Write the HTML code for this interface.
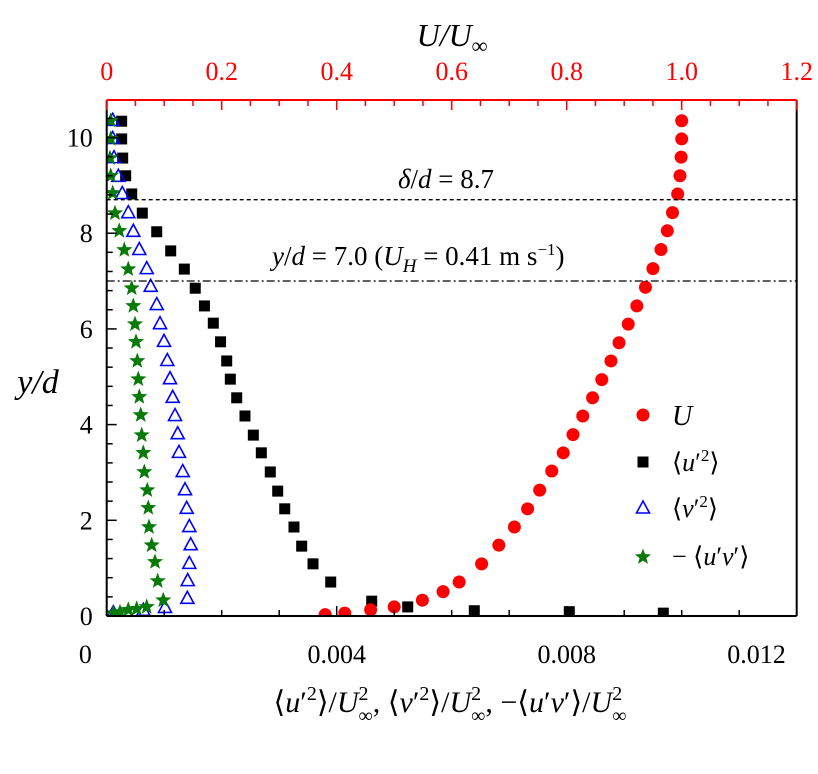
<!DOCTYPE html>
<html><head><meta charset="utf-8"><style>
body{margin:0;background:#fff}
svg, svg text{font-family:"Liberation Serif","Times New Roman","DejaVu Serif",serif}
</style></head><body>
<svg id="chart" width="818" height="769" viewBox="0 0 818 769" xmlns="http://www.w3.org/2000/svg" font-family="Liberation Serif, serif">
<g id="marks"></g>
<g id="axes"></g>
<line x1="106.7" x2="796.7" y1="199.7" y2="199.7" stroke="#000" stroke-width="1.3" stroke-dasharray="4,3"/>
<line x1="106.7" x2="796.7" y1="281" y2="281" stroke="#000" stroke-width="1.3" stroke-dasharray="8,3,2,3"/>
<text x="446" y="188" font-size="27" text-anchor="middle"><tspan font-style="italic">δ</tspan>/<tspan font-style="italic">d</tspan> = 8.7</text>
<text x="272" y="265" font-size="27"><tspan font-style="italic">y</tspan>/<tspan font-style="italic">d</tspan> = 7.0 (<tspan font-style="italic">U</tspan><tspan font-style="italic" font-size="19" dy="7">H</tspan><tspan dy="-7"> = 0.41 m s</tspan><tspan font-size="17" dy="-10">−1</tspan><tspan dy="10">)</tspan></text>
<text x="452" y="46" font-size="32" text-anchor="middle" font-style="italic">U/U<tspan font-size="22" dy="7">∞</tspan></text>
<text x="38" y="393" font-size="34" text-anchor="middle" font-style="italic">y/d</text>
<text x="450" y="712" font-size="30" text-anchor="middle">⟨<tspan font-style="italic">u</tspan>′<tspan font-size="20" dy="-12">2</tspan><tspan dy="12">⟩/</tspan><tspan font-style="italic">U</tspan><tspan font-size="20" dy="-12">2</tspan><tspan font-size="20" dx="-10" dy="22">∞</tspan><tspan dy="-10">, ⟨</tspan><tspan font-style="italic">v</tspan>′<tspan font-size="20" dy="-12">2</tspan><tspan dy="12">⟩/</tspan><tspan font-style="italic">U</tspan><tspan font-size="20" dy="-12">2</tspan><tspan font-size="20" dx="-10" dy="22">∞</tspan><tspan dy="-10">, −⟨</tspan><tspan font-style="italic">u</tspan>′<tspan font-style="italic">v</tspan>′⟩/<tspan font-style="italic">U</tspan><tspan font-size="20" dy="-12">2</tspan><tspan font-size="20" dx="-10" dy="22">∞</tspan></text>
<g id="legend">
<circle cx="643" cy="415" r="6.5" fill="#f00"/>
<text x="672" y="425" font-size="28" font-style="italic">U</text>
<rect x="637.5" y="456.5" width="11" height="11" fill="#000"/>
<text x="672" y="471" font-size="26">⟨<tspan font-style="italic">u</tspan>′<tspan font-size="17" dy="-10">2</tspan><tspan dy="10">⟩</tspan></text>
<path d="M643,501 L649.5,513 L636.5,513 Z" fill="none" stroke="#00f" stroke-width="1.6"/>
<text x="672" y="517" font-size="26">⟨<tspan font-style="italic">v</tspan>′<tspan font-size="17" dy="-10">2</tspan><tspan dy="10">⟩</tspan></text>
<path d="" id="legstar" fill="#087a08"/>
<text x="672" y="565" font-size="26">− ⟨<tspan font-style="italic">u</tspan>′<tspan font-style="italic">v</tspan>′⟩</text>
</g>
</svg>
<script>
const uY=[10.35,9.97,9.59,9.2,8.82,8.43,8.05,7.66,7.26,6.87,6.48,6.1,5.71,5.33,4.94,4.56,4.18,3.79,3.41,3.03,2.63,2.24,1.86,1.48,1.09,0.71,0.51,0.33,0.19,0.13,0.06,0.03];
const uVals=[1.0,1.0,0.999,0.997,0.993,0.984,0.975,0.964,0.95,0.937,0.922,0.907,0.891,0.877,0.861,0.845,0.828,0.811,0.794,0.774,0.753,0.732,0.709,0.682,0.652,0.613,0.585,0.549,0.5,0.459,0.414,0.38];
const uuY=[10.34,9.97,9.57,9.2,8.82,8.42,8.03,7.63,7.25,6.85,6.48,6.12,5.73,5.33,4.95,4.56,4.18,3.78,3.41,3.01,2.61,2.24,1.86,1.46,1.09,0.71,0.31,0.19,0.11,0.09,0.06];
const uuVals=[0.00026,0.00026,0.000278,0.00033,0.000435,0.000619,0.00087,0.001113,0.00135,0.00154,0.0017,0.001854,0.00198,0.002087,0.00215,0.002261,0.002405,0.00255,0.002689,0.002845,0.002974,0.003096,0.003257,0.003391,0.003588,0.003896,0.004609,0.005235,0.006393,0.008045,0.00968];
const vvY=[10.37,9.99,9.59,9.2,8.84,8.44,8.05,7.67,7.27,6.9,6.52,6.12,5.75,5.35,4.97,4.58,4.2,3.82,3.43,3.03,2.65,2.26,1.88,1.5,1.11,0.75,0.38,0.19,0.13,0.08];
const vvVals=[0.000104,0.000104,0.000127,0.000202,0.000271,0.000376,0.000463,0.000567,0.000696,0.000765,0.00087,0.000927,0.000997,0.001054,0.001101,0.001148,0.001188,0.001235,0.001257,0.001322,0.001362,0.001391,0.001437,0.001461,0.001437,0.001409,0.001402,0.001014,0.000637,0.000115];
const uvY=[10.35,9.97,9.57,9.2,8.84,8.42,8.05,7.65,7.25,6.85,6.48,6.1,5.73,5.33,4.95,4.58,4.2,3.78,3.41,3.01,2.63,2.26,1.86,1.48,1.13,0.73,0.33,0.19,0.15,0.13,0.08,0.06];
const uvVals=[0.00007,0.00007,0.000057,0.00007,0.000104,0.000144,0.000219,0.000306,0.000376,0.000435,0.000463,0.000492,0.00051,0.000532,0.00055,0.000567,0.000591,0.000609,0.000637,0.000654,0.000706,0.000723,0.000736,0.000783,0.00084,0.000887,0.000984,0.000696,0.000522,0.000376,0.000231,0.000115];
const yTickLabels=["0","2","4","6","8","10"];
const topTickLabels=["0","0.2","0.4","0.6","0.8","1.0","1.2"];
const bottomTickLabels=["0","0.004","0.008","0.012"];
const bottomTickValues=[-0.00037,0.004,0.008,0.0113];

const L=106.7,R=796.7,T=100,B=616;
const NS="http://www.w3.org/2000/svg";
const xS=v=>L+v/0.012*(R-L);
const xU=v=>L+v/1.2*(R-L);
const yS=v=>B-v*47.85;
const marks=document.getElementById('marks');
const axes=document.getElementById('axes');
function mk(tag,attrs,parent){const e=document.createElementNS(NS,tag);for(const k in attrs)e.setAttribute(k,attrs[k]);parent.appendChild(e);return e;}
function starPath(cx,cy,r){let d="";for(let i=0;i<10;i++){const a=-Math.PI/2+i*Math.PI/5;const rr=i%2?r*0.42:r;d+=(i?"L":"M")+(cx+rr*Math.cos(a)).toFixed(1)+","+(cy+rr*Math.sin(a)).toFixed(1);}return d+"Z";}
document.getElementById('legstar').setAttribute('d',starPath(643,557,8.5));

const clip=mk('clipPath',{id:'pc'},document.getElementById('chart'));
mk('rect',{x:L,y:T,width:R-L,height:B-T},clip);
marks.setAttribute('clip-path','url(#pc)');

uuVals.forEach((v,i)=>{const e=mk('rect',{x:xS(v)-5.5,y:yS(uuY[i])-5.5,width:11,height:11,fill:'#000'},marks);

});
vvVals.forEach((v,i)=>{const cx=xS(v),cy=yS(vvY[i]);const e=mk('path',{d:`M${cx},${cy-6.5}L${cx+6.5},${cy+5.5}L${cx-6.5},${cy+5.5}Z`,fill:'none',stroke:'#00f','stroke-width':1.6},marks);

});
uvVals.forEach((v,i)=>{const e=mk('path',{d:starPath(xS(v),yS(uvY[i]),8.5),fill:'#087a08'},marks);

});
uVals.forEach((v,i)=>{const e=mk('circle',{cx:xU(v),cy:yS(uY[i]),r:6.5,fill:'#f00'},marks);

});

const f1=mk('line',{x1:L,x2:L,y1:T,y2:B,stroke:'#000','stroke-width':2},axes);


const f2=mk('line',{x1:L,x2:R,y1:B,y2:B,stroke:'#000','stroke-width':2},axes);


const f3=mk('line',{x1:R,x2:R,y1:T,y2:B,stroke:'#000','stroke-width':2},axes);


const f4=mk('line',{x1:L,x2:R,y1:T,y2:T,stroke:'#f00','stroke-width':2},axes);



for(let k=0;k<=27;k++){const v=k*0.4;const y=yS(v);if(y<T)break;const major=(k%5===0);
mk('line',{x1:L,x2:L+(major?10:6),y1:y,y2:y,stroke:'#000','stroke-width':1.5},axes);}
yTickLabels.forEach((t,i)=>{const e=mk('text',{x:L-14,y:yS(i*2)+9,'font-size':26,'text-anchor':'end'},axes);e.textContent=t;

});
for(let k=0;k<=12;k++){const x=xS(k*0.001);const major=(k%4===0);
mk('line',{x1:x,x2:x,y1:B,y2:B-(major?10:6),stroke:'#000','stroke-width':1.5},axes);}
bottomTickLabels.forEach((t,i)=>{const e=mk('text',{x:xS(bottomTickValues[i]),y:663,'font-size':26,'text-anchor':'middle'},axes);e.textContent=t;

});
for(let k=0;k<=24;k++){const x=xU(k*0.05);const major=(k%4===0);
mk('line',{x1:x,x2:x,y1:T,y2:T+(major?10:6),stroke:'#f00','stroke-width':1.5},axes);}
topTickLabels.forEach((t,i)=>{const e=mk('text',{x:xU(i*0.2),y:80,'font-size':26,'text-anchor':'middle',fill:'#f00'},axes);e.textContent=t;

});
</script>
</body></html>
